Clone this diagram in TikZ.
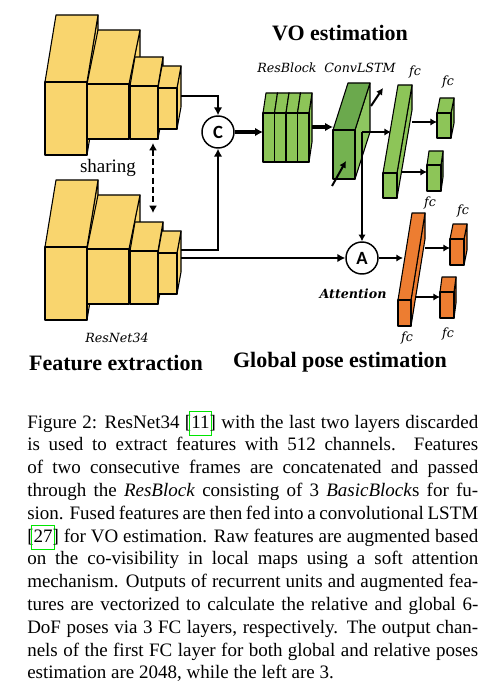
\documentclass[tikz,border=0pt]{standalone}
\usepackage{fontspec}
\setmainfont{Liberation Serif}
\newfontfamily\carlito{Carlito}
\newfontfamily\djv{DejaVu Serif}
\usetikzlibrary{arrows.meta}
\definecolor{ylw}{HTML}{F9D56E}
\definecolor{grn}{HTML}{8DC558}
\definecolor{lstmtop}{HTML}{6BA94D}
\definecolor{lstmfront}{HTML}{74B250}
\definecolor{lstmside}{HTML}{8EC660}
\definecolor{org}{HTML}{ED7D31}
\definecolor{lkgreen}{RGB}{0,230,0}
% x y w h dx dy front top side
\newcommand\mycube[9]{%
  \filldraw[fill=#9,cubeedge] ({#1+#3},{#2}) -- ++(#5,#6) -- ++(0,#4) -- ({#1+#3},{#2+#4}) -- cycle;
  \filldraw[fill=#8,cubeedge] (#1,#2) -- ++(#3,0) -- ++(#5,#6) -- ++(-#3,0) -- cycle;
  \filldraw[fill=#7,cubeedge] (#1,#2) rectangle ++(#3,#4);}
\newcommand\cb[1]{\leavevmode\setbox0\hbox{#1}%
  \rlap{\kern-1.6pt\textcolor{lkgreen}{\setlength\fboxsep{0pt}\setlength\fboxrule{0.6pt}%
  \fbox{\hbox to \dimexpr\wd0+2pt\relax{\hss\strut\hss}}}}\box0}
\newcommand\capline[1]{\makebox[338.25pt][s]{#1}}
\begin{document}
\begin{tikzpicture}[x=0.75pt,y=-0.75pt,
  cubeedge/.style={draw=black,line width=0.8pt,line join=round},
  conn/.style={line width=2.2pt,-{Latex[length=6pt,width=6.5pt]}},
  arr/.style={line width=1.5pt,-{Latex[length=5pt,width=5.5pt]}},
  thickarr/.style={line width=2.6pt,-{Latex[length=6pt,width=6.5pt]}},
  op/.style={circle,draw,line width=1.1pt,fill=white,minimum size=24pt,inner sep=0pt,
    font=\carlito\bfseries\fontsize{14pt}{14pt}\selectfont},
  lab/.style={font=\djv\itshape\fontsize{9.5pt}{11pt}\selectfont, inner sep=0pt},
  ttl/.style={font=\bfseries\fontsize{16.5pt}{19pt}\selectfont, inner sep=0pt}]
\fill[white] (0,0) rectangle (503,684);
\useasboundingbox (0,0) rectangle (503,684);

% ---- upper ResNet stack
\mycube{45}{82}{42}{73}{11}{-67}{ylw}{ylw}{ylw}
\mycube{87}{84}{42}{55}{11}{-54}{ylw}{ylw}{ylw}
\mycube{130}{86}{28}{53}{5}{-29}{ylw}{ylw}{ylw}
\mycube{158}{88}{19}{41}{4}{-22}{ylw}{ylw}{ylw}
% ---- lower ResNet stack
\mycube{45}{247}{42}{73}{11}{-67}{ylw}{ylw}{ylw}
\mycube{87}{249}{42}{55}{11}{-54}{ylw}{ylw}{ylw}
\mycube{130}{251}{28}{53}{5}{-29}{ylw}{ylw}{ylw}
\mycube{158}{253}{19}{41}{4}{-22}{ylw}{ylw}{ylw}

% ---- ResBlock
\mycube{263}{113}{11.5}{49}{3}{-20}{grn}{grn}{grn}
\mycube{274.5}{113}{11.5}{49}{3}{-20}{grn}{grn}{grn}
\mycube{286}{113}{11.5}{49}{3}{-20}{grn}{grn}{grn}
\mycube{297.5}{113}{11.5}{49}{3}{-20}{grn}{grn}{grn}

% ---- ConvLSTM
\mycube{333}{130}{22}{49}{15}{-47}{lstmfront}{lstmtop}{lstmside}

% ---- green fc
\mycube{383}{173}{14}{25}{15}{-88}{grn}{grn}{grn}
\mycube{437}{113}{14}{25}{3}{-15}{grn}{grn}{grn}
\mycube{427}{165}{14}{26}{2}{-14}{grn}{grn}{grn}

% ---- orange fc
\mycube{398}{300}{13}{26}{14}{-87}{org}{org}{org}
\mycube{450}{239}{14}{26}{3}{-15}{org}{org}{org}
\mycube{440}{292}{14}{26}{2}{-15}{org}{org}{org}

% ---- operator nodes
\node[op] (C) at (218,132) {C};
\node[op] (A) at (362,258) {A};

% ---- coordinates
\coordinate (uo) at (181,96);
\coordinate (lo1) at (181,250);
\coordinate (lo2) at (181,258);
\coordinate (sh1) at (153,143);
\coordinate (sh2) at (153,213);
\coordinate (rbin) at (263,132);
\coordinate (rbout) at (312,127);
\coordinate (lstmin) at (333,127);
\coordinate (rin1) at (332,186);
\coordinate (rin2) at (346,161);
\coordinate (rout1) at (371,106);
\coordinate (rout2) at (383,88);
\coordinate (split) at (362,132);
\coordinate (gfin) at (391,132);
\coordinate (gout1) at (412,122);
\coordinate (gin1) at (437,122);
\coordinate (gout2) at (401,172);
\coordinate (gin2) at (427,172);
\coordinate (ofin) at (403,258);
\coordinate (oout1) at (425,248);
\coordinate (oin1) at (450,248);
\coordinate (oout2) at (415,297);
\coordinate (oin2) at (440,297);

% ---- connectors
\draw[conn] (uo) -| (C.north);
\draw[conn] (lo1) -| (C.south);
\draw[conn] (lo2) -- (A.west);
\draw[line width=1.6pt,dash pattern=on 4.5pt off 2.5pt,{Latex[length=5.5pt,width=6pt]}-{Latex[length=5.5pt,width=6pt]}] (sh1) -- (sh2);
\draw[thickarr] (C.east) -- (rbin);
\draw[thickarr] (rbout) -- (lstmin);
\draw[arr] (rin1) -- (rin2);
\draw[arr] (rout1) -- (rout2);
\draw[arr] (split) -- (gfin);
\draw[arr] (split) -- (A.north);
\draw[arr] (A.east) -- (ofin);
\draw[arr] (gout1) -- (gin1);
\draw[arr] (gout2) -- (gin2);
\draw[arr] (oout1) -- (oin1);
\draw[arr] (oout2) -- (oin2);

% ---- labels
\node[ttl] (t1) at (340,33) {VO estimation};
\node[ttl] (t2) at (116,363) {Feature extraction};
\node[ttl] (t3) at (340,362) {Global pose estimation};
\node[inner sep=0pt,font=\fontsize{14.25pt}{17pt}\selectfont] (shl) at (108,168) {sharing};
\node[lab] (l1) at (117,338) {ResNet34};
\node[lab] (l2) at (287,68) {ResBlock};
\node[lab] (l3) at (360,68) {ConvLSTM};
\node[lab,font=\djv\bfseries\itshape\fontsize{9.5pt}{11pt}\selectfont] (l4) at (353,294) {Attention};
\node[lab] (f1) at (415,72) {fc};
\node[lab] (f2) at (448,82) {fc};
\node[lab] (f3) at (430,203) {fc};
\node[lab] (f4) at (463,211) {fc};
\node[lab] (f5) at (407,338) {fc};
\node[lab] (f6) at (448,334) {fc};

% ---- caption
\node[anchor=north west,inner sep=0pt,align=left,
  font=\fontsize{14.25pt}{17.1pt}\selectfont] (cap) at (27,411) {%
\capline{\strut Figure 2: ResNet34 [\cb{11}] with the last two layers discarded}\\
\capline{is used to extract features with 512 channels. Features}\\
\capline{of two consecutive frames are concatenated and passed}\\
\capline{through the \textit{ResBlock} consisting of 3 \textit{BasicBlock}s for fu-}\\
\capline{sion. Fused features are then fed into a convolutional LSTM}\\
\capline{[\cb{27}] for VO estimation. Raw features are augmented based}\\
\capline{on the co-visibility in local maps using a soft attention}\\
\capline{mechanism. Outputs of recurrent units and augmented fea-}\\
\capline{tures are vectorized to calculate the relative and global 6-}\\
\capline{DoF poses via 3 FC layers, respectively. The output chan-}\\
\capline{nels of the first FC layer for both global and relative poses}\\
estimation are 2048, while the left are 3.};
\end{tikzpicture}
\end{document}
